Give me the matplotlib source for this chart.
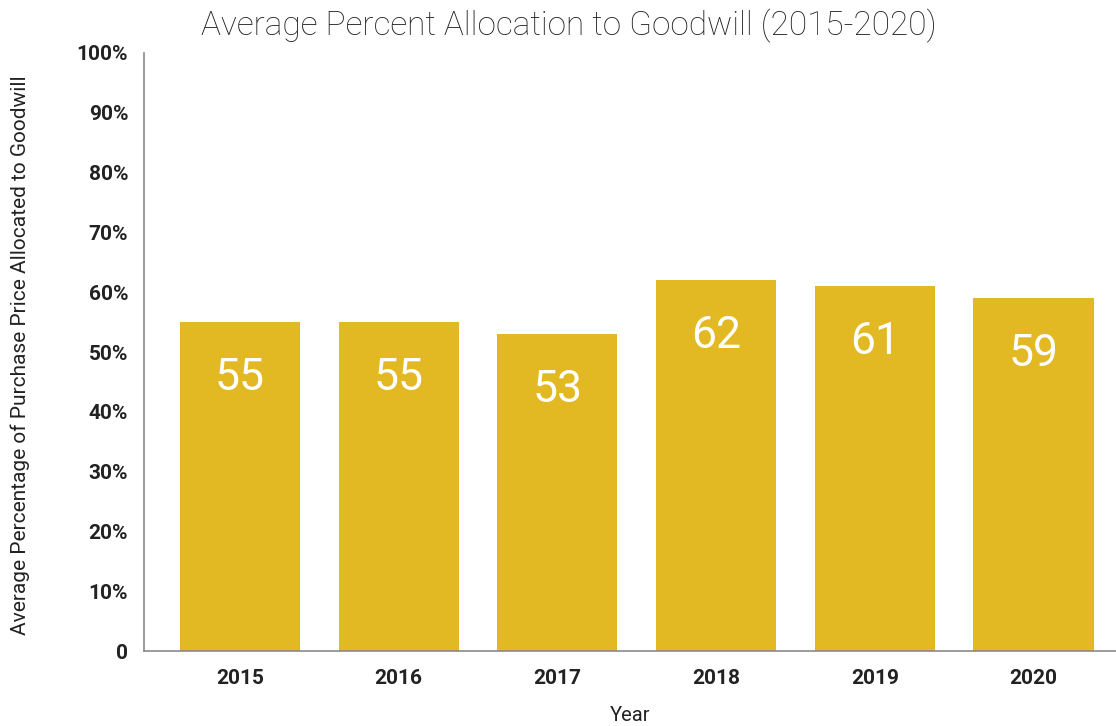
import matplotlib.pyplot as plt
from matplotlib.ticker import FuncFormatter

years = ["2015", "2016", "2017", "2018", "2019", "2020"]
goodwill_pct = [55, 55, 53, 62, 61, 59]

bar_color = "#E3B923"
text_color = "#222222"

plt.rcParams["font.family"] = ["Roboto", "DejaVu Sans"]

fig = plt.figure(figsize=(11.16, 7.26), dpi=100)
ax = fig.add_axes([0.1286, 0.1033, 0.8714, 0.8237])

x = range(len(years))
bars = ax.bar(x, goodwill_pct, width=0.757, color=bar_color, zorder=2)

# value labels inside the top of each bar
for rect, val in zip(bars, goodwill_pct):
    ax.annotate(str(val), (rect.get_x() + rect.get_width() / 2, val),
                xytext=(0, -40), textcoords="offset points",
                ha="center", va="center", color="white", fontsize=32)

ax.set_xlim(-0.608, 5.52)
ax.set_ylim(0, 100)
ax.set_xticks(list(x))
ax.set_xticklabels(years)
ax.set_yticks(range(0, 101, 10))
ax.yaxis.set_major_formatter(FuncFormatter(lambda v, _: "0" if v == 0 else f"{int(v)}%"))

for side in ["top", "right"]:
    ax.spines[side].set_visible(False)
for side in ["left", "bottom"]:
    ax.spines[side].set_color("#8a8a8a")
    ax.spines[side].set_linewidth(1.2)

ax.tick_params(axis="both", length=0, labelsize=15, labelcolor=text_color)
ax.tick_params(axis="y", pad=11)
ax.tick_params(axis="x", pad=13)
for lbl in ax.get_xticklabels() + ax.get_yticklabels():
    lbl.set_fontweight("bold")

ax.set_xlabel("Year", fontsize=14.5, color=text_color, labelpad=13)
ax.set_ylabel("Average Percentage of Purchase Price Allocated to Goodwill",
              fontsize=15, color=text_color)
ax.yaxis.set_label_coords(-0.117, 0.495)
fig.text(0.51, 0.965, "Average Percent Allocation to Goodwill (2015-2020)",
         ha="center", va="center", fontsize=24, fontweight="light", color=text_color)

fig.savefig("out.png", dpi=100)
